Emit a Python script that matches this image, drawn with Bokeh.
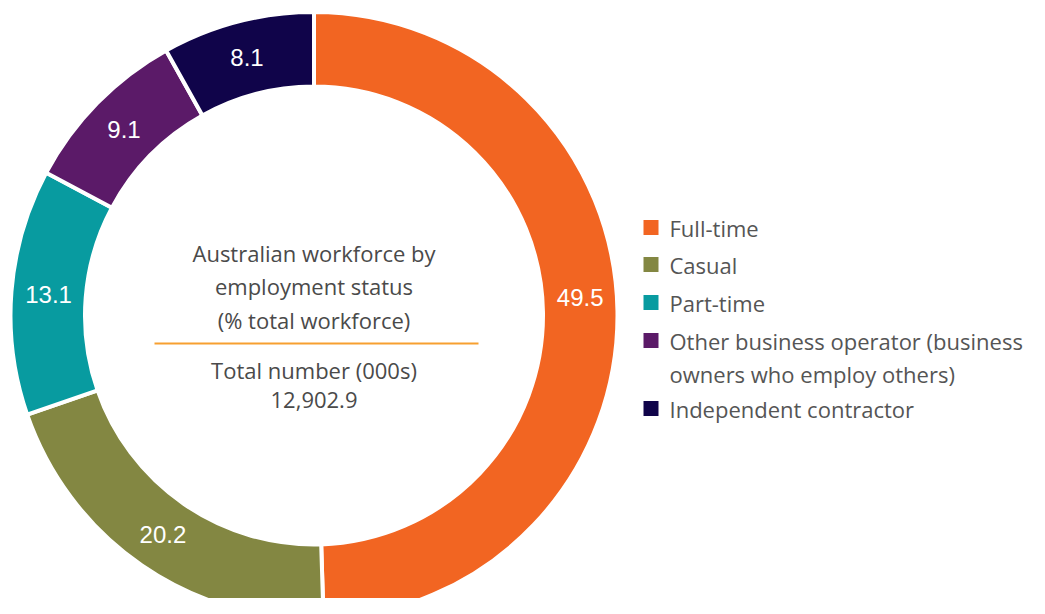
import math
from bokeh.plotting import figure
from bokeh.models import ColumnDataSource, Range1d
from bokeh.core.properties import value
from bokeh.embed import file_html
from bokeh.resources import INLINE

# ---- data ----
categories = ["Full-time", "Casual", "Part-time",
              "Other business operator (business\nowners who employ others)",
              "Independent contractor"]
shares = [49.5, 20.2, 13.1, 9.1, 8.1]
colors = ["#F26522", "#838742", "#089BA0", "#5B1A68", "#10044A"]
title_lines = ["Australian workforce by", "employment status", "(% total workforce)"]
total_lines = ["Total number (000s)", "12,902.9"]

# ---- layout (pixel-like data units, y up) ----
W, H = 1029, 598
cx, cy = 313.5, 299.0
r_in, r_out = 231.0, 301.5
label_nudge = [14, 0, 0, 0, 0]   # vertical label tweak (px)

p = figure(width=W, height=H, output_backend="svg", toolbar_location=None,
           x_range=Range1d(0, W), y_range=Range1d(614 - H, 614),
           min_border=0, outline_line_color=None)
p.axis.visible = False
p.grid.visible = False
p.background_fill_color = "white"
p.border_fill_color = "white"

total = sum(shares)
starts, ends, lx, ly, labels = [], [], [], [], []
cum = 0.0
for i, v in enumerate(shares):
    a0 = math.pi / 2 - 2 * math.pi * cum / total
    cum += v
    a1 = math.pi / 2 - 2 * math.pi * cum / total
    starts.append(a1)
    ends.append(a0)
    mid = (a0 + a1) / 2
    rm = (r_in + r_out) / 2
    lx.append(cx + rm * math.cos(mid))
    ly.append(cy + rm * math.sin(mid) + label_nudge[i])
    labels.append(f"{v:.1f}")

src = ColumnDataSource(dict(start=starts, end=ends, color=colors,
                            lx=lx, ly=ly, label=labels))
p.annular_wedge(x=cx, y=cy, inner_radius=r_in - 2, outer_radius=r_out + 2,
                start_angle="start", end_angle="end", fill_color="color",
                line_color="white", line_width=4, source=src)
p.text(x="lx", y="ly", text="label", source=src, text_color="white",
       text_font=value("Liberation Sans"), text_font_size="24px",
       text_align="center", text_baseline="middle")

# centre texts
tc = "#4A4A4A"
title_y = [614 - 252, 614 - 285, 614 - 319]
p.text(x=[cx] * 3, y=title_y, text=title_lines, text_color=tc,
       text_font=value("Open Sans"), text_font_size="22px",
       text_align="center", text_baseline="middle")
p.line(x=[154, 478], y=[614 - 343, 614 - 343], line_color="#F7A030", line_width=2)
p.text(x=[cx] * 2, y=[614 - 369, 614 - 399], text=total_lines, text_color=tc,
       text_font=value("Open Sans"), text_font_size="22px",
       text_align="center", text_baseline="middle")

# legend
leg_rows = [227, 264, 302, 340, 408]
leg_src = ColumnDataSource(dict(
    x=[650.5] * 5, y=[614 - r for r in leg_rows], color=colors))
p.rect(x="x", y="y", width=15, height=15, fill_color="color",
       line_color=None, source=leg_src)
txt, tx, ty = [], [], []
for cat, r in zip(categories, leg_rows):
    for j, part in enumerate(cat.split("\n")):
        txt.append(part)
        tx.append(669)
        ty.append(614 - r - j * 33)
p.text(x=tx, y=ty, text=txt, text_color="#555555",
       text_font=value("Open Sans"), text_font_size="22px",
       text_align="left", text_baseline="middle")

open("out.html", "w").write(file_html(p, INLINE))
